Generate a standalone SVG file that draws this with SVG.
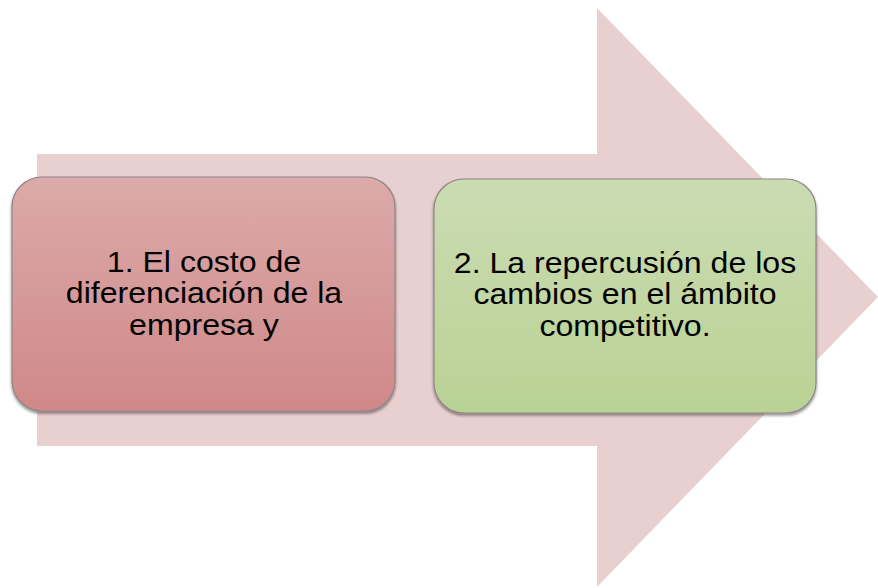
<svg xmlns="http://www.w3.org/2000/svg" width="878" height="588" viewBox="0 0 878 588">
  <defs>
    <linearGradient id="gRed" x1="0" y1="0" x2="0" y2="1">
      <stop offset="0" stop-color="#dcaaaa"/>
      <stop offset="1" stop-color="#d08888"/>
    </linearGradient>
    <linearGradient id="gGreen" x1="0" y1="0" x2="0" y2="1">
      <stop offset="0" stop-color="#cbdcb3"/>
      <stop offset="1" stop-color="#b9d294"/>
    </linearGradient>
    <filter id="shadow" x="-10%" y="-10%" width="120%" height="125%">
      <feGaussianBlur in="SourceAlpha" stdDeviation="1.5"/>
      <feOffset dx="0" dy="1.5" result="b"/>
      <feComponentTransfer><feFuncA type="linear" slope="0.45"/></feComponentTransfer>
      <feMerge><feMergeNode/><feMergeNode in="SourceGraphic"/></feMerge>
    </filter>
    <style>
      .box { stroke: #8f8585; stroke-width: 1.2; filter: url(#shadow); }
      .lbl { font-family: "Liberation Sans", Arial, sans-serif; font-size: 30px; fill: #000; text-anchor: middle; }
    </style>
  </defs>
  <rect width="878" height="588" fill="#ffffff"/>
  <g id="arrow">
    <polygon points="37,154 597,154 597,8 878,297 597,587 597,446 37,446" fill="#e8cfd0"/>
  </g>
  <g id="node1">
    <rect class="box" x="12" y="177" width="383" height="234" rx="30" ry="30" fill="url(#gRed)"/>
    <g transform="translate(204 0) scale(1.07 1)">
      <text class="lbl" x="0" y="272"><tspan x="0" y="272">1. El costo de</tspan><tspan x="0" y="303.5">diferenciación de la</tspan><tspan x="0" y="335">empresa y</tspan></text>
    </g>
  </g>
  <g id="node2">
    <rect class="box" x="434" y="179" width="382" height="234" rx="30" ry="30" fill="url(#gGreen)"/>
    <g transform="translate(625 0) scale(1.07 1)">
      <text class="lbl" x="0" y="273"><tspan x="0" y="273">2. La repercusión de los</tspan><tspan x="0" y="304.5">cambios en el ámbito</tspan><tspan x="0" y="336">competitivo.</tspan></text>
    </g>
  </g>
  <g id="connectors"/>
</svg>
